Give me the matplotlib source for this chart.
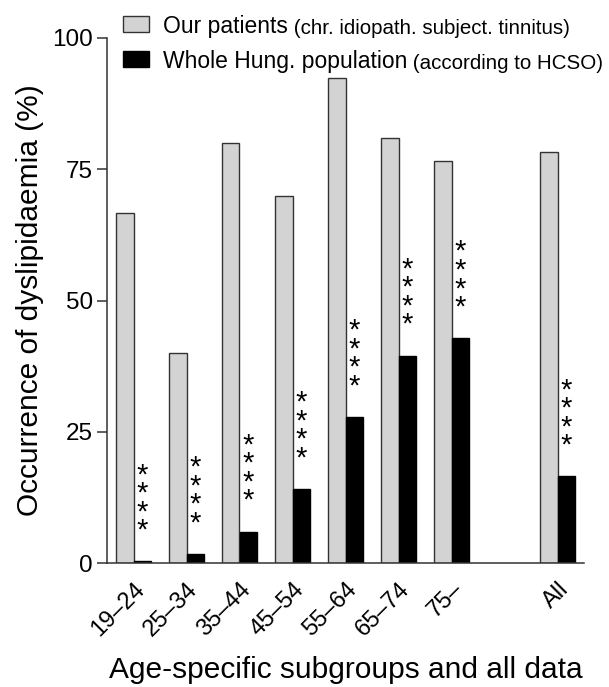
import numpy as np
import matplotlib
matplotlib.use("Agg")
import matplotlib.pyplot as plt
from matplotlib.patches import Rectangle

plt.rcParams['font.family'] = ['Liberation Sans', 'DejaVu Sans']

groups = ["19\u201324", "25\u201334", "35\u201344", "45\u201354", "55\u201364", "65\u201374", "75\u2013", "All"]
patients = [66.7, 40.0, 80.0, 70.0, 92.4, 80.9, 76.6, 78.3]
population = [0.3, 1.7, 6.0, 14.1, 27.8, 39.5, 42.8, 16.5]
signif = ["****"] * 8


def main():
    W, H = 609, 687
    fig = plt.figure(figsize=(W / 100, H / 100), dpi=100)
    ax = fig.add_axes([107 / W, 1 - 563 / H, 477 / W, 525 / H])

    x = np.array([0, 1, 2, 3, 4, 5, 6, 8])
    w = 0.327
    ax.bar(x - w / 2, patients, w, color="#d3d3d3", edgecolor="#333333", linewidth=1.0)
    ax.bar(x + w / 2, population, w, color="black", edgecolor="black", linewidth=1.0)

    for xi, v, s in zip(x, population, signif):
        ax.annotate("\n".join(s), xy=(xi + w / 2, v), xytext=(0, 12),
                    textcoords="offset points", ha="center", va="bottom",
                    fontsize=21, linespacing=0.57)

    ax.set_xlim(-0.5, 8.5)
    ax.set_ylim(0, 100)
    ax.set_yticks([0, 25, 50, 75, 100])
    ax.set_xticks(x)
    ax.set_xticklabels(groups, rotation=45, ha="right", va="top", rotation_mode="anchor")
    ax.tick_params(axis="y", labelsize=17.5, length=7, width=1.1, color="#333333", pad=3)
    ax.tick_params(axis="x", labelsize=17, length=0, pad=11)
    for side in ["top", "right"]:
        ax.spines[side].set_visible(False)
    for side in ["left", "bottom"]:
        ax.spines[side].set_linewidth(1.1)
        ax.spines[side].set_color("#333333")

    ax.set_ylabel("Occurrence of dyslipidaemia (%)", fontsize=21.5, labelpad=6)
    ax.set_xlabel("Age-specific subgroups and all data", fontsize=21.5, labelpad=11)

    # legend drawn by hand to mix font sizes
    fig.patches.append(Rectangle((123 / W, 1 - 32 / H), 26 / W, 16 / H,
                                 transform=fig.transFigure, facecolor="#d3d3d3",
                                 edgecolor="#333333", linewidth=1.0))
    fig.patches.append(Rectangle((123 / W, 1 - 67 / H), 26 / W, 16 / H,
                                 transform=fig.transFigure, facecolor="black",
                                 edgecolor="black", linewidth=1.0))
    t1 = fig.text(163 / W, 1 - 33 / H, "Our patients", fontsize=16.5, va="baseline")
    ax.annotate(" (chr. idiopath. subject. tinnitus)", xy=(1, 0), xycoords=t1,
                fontsize=14.8, va="bottom", annotation_clip=False)
    t2 = fig.text(163 / W, 1 - 68 / H, "Whole Hung. population", fontsize=16.5, va="baseline")
    ax.annotate(" (according to HCSO)", xy=(1, 0), xycoords=t2,
                fontsize=14.8, va="bottom", annotation_clip=False)

    fig.savefig("out.png", dpi=100)


if __name__ == "__main__":
    main()
